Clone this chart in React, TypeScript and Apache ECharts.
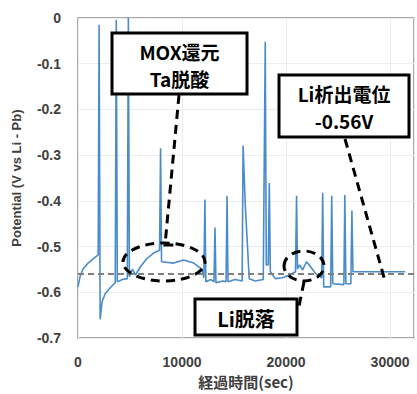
import React, { useEffect, useRef } from "react";
import * as echarts from "echarts";

// elapsed time (sec) and potential (V vs Li-Pb)
const timeSec = [
  0, 190, 480, 970, 1450, 1940, 2030, 2130, 2320, 2610, 3100, 3580, 3680, 3780, 4260, 4740, 4840, 4940,
  5230, 5520, 6000, 6580, 7260, 7840, 7940, 8030, 9200, 10160, 11130, 11900, 12100, 12200, 12290, 12780,
  13070, 13170, 13260, 13940, 14230, 14330, 14420, 15100, 15780, 15870, 16070, 16460, 17040, 17810, 18000,
  18100, 18290, 18390, 18490, 18970, 19650, 20330, 20910, 21010, 21100, 21300, 21590, 21970, 22360, 22840,
  23430, 23520, 23620, 24290, 24390, 24490, 25560, 25650, 25750, 26230, 26330, 26430, 31460,
];
const potential = [
  -0.588, -0.566, -0.549, -0.536, -0.527, -0.518, -0.015, -0.659, -0.62, -0.603, -0.59, -0.579, -0.004,
  -0.577, -0.572, -0.57, 0.0, -0.566, -0.549, -0.562, -0.544, -0.527, -0.514, -0.508, -0.285, -0.533,
  -0.536, -0.529, -0.536, -0.549, -0.568, -0.397, -0.577, -0.572, -0.577, -0.458, -0.579, -0.575, -0.577,
  -0.389, -0.577, -0.572, -0.575, -0.279, -0.404, -0.57, -0.575, -0.572, -0.052, -0.54, -0.54, -0.361,
  -0.555, -0.57, -0.568, -0.562, -0.555, -0.389, -0.549, -0.54, -0.551, -0.533, -0.544, -0.559, -0.568,
  -0.382, -0.588, -0.588, -0.389, -0.581, -0.583, -0.387, -0.581, -0.581, -0.421, -0.555, -0.555,
];
const liPotentialLine = [
  [0, -0.56],
  [32300, -0.56],
];
const xTicks = [0, 10000, 20000, 30000];
const yTickLabels = ["-0.7", "-0.6", "-0.5", "-0.4", "-0.3", "-0.2", "-0.1", "0"];

const boxText1 = ["MOX還元", "Ta脱酸"];
const boxText2 = ["Li析出電位", "-0.56V"];
const boxText3 = ["Li脱落"];

export default function App() {
  const ref = useRef<HTMLDivElement>(null);
  useEffect(() => {
    document.body.style.margin = "0";
    const chart = echarts.init(ref.current!, null, { renderer: "svg" });
    const dash = { stroke: "#000", lineWidth: 3, lineDash: [9, 6], fill: "none" };
    const cjk = '"Noto Sans CJK JP", "Noto Sans", sans-serif';
    const box = (x: number, y: number, w: number, h: number, lines: string[], lh: number, fs: number) => {
      const els: any[] = [
        {
          type: "rect",
          shape: { x, y, width: w, height: h },
          style: { fill: "#fff", stroke: "#000", lineWidth: 3 },
          z: 100,
        },
      ];
      const cy = y + h / 2 + 1;
      lines.forEach((t, i) => {
        els.push({
          type: "text",
          x: x + w / 2,
          y: cy + (i - (lines.length - 1) / 2) * lh,
          style: {
            text: t,
            fill: "#000",
            fontSize: fs,
            lineHeight: fs,
            fontWeight: "bold",
            fontFamily: cjk,
            align: "center",
            verticalAlign: "middle",
          },
          z: 101,
        });
      });
      return els;
    };
    chart.setOption({
      animation: false,
      backgroundColor: "#fff",
      grid: {
        left: 78,
        right: 3,
        top: 18,
        bottom: 52,
        show: true,
        borderColor: "#8c8c8c",
        borderWidth: 1.5,
      },
      xAxis: {
        type: "value",
        min: 0,
        max: 32300,
        interval: 10000,
        name: "経過時間(sec)",
        nameLocation: "middle",
        nameGap: 31,
        nameTextStyle: {
          fontFamily: cjk,
          fontWeight: "bold",
          fontSize: 15,
          color: "#404040",
        },
        axisLine: { show: false },
        axisTick: { show: false },
        splitLine: { show: true, lineStyle: { color: "#ececec", width: 1 } },
        axisLabel: {
          margin: 17,
          fontFamily: "Liberation Sans",
          fontWeight: "bold",
          fontSize: 14,
          color: "#404040",
          formatter: (v: number) => (xTicks.includes(v) ? String(v) : ""),
        },
      },
      yAxis: {
        type: "value",
        min: -0.7,
        max: 0,
        interval: 0.1,
        name: "Potential (V vs Li - Pb)",
        nameLocation: "middle",
        nameGap: 55,
        nameTextStyle: {
          fontFamily: "Liberation Sans",
          fontWeight: "bold",
          fontSize: 13,
          color: "#404040",
        },
        axisLine: { show: false },
        axisTick: { show: false },
        splitLine: { show: true, lineStyle: { color: "#ececec", width: 1 } },
        axisLabel: {
          margin: 17,
          fontFamily: "Liberation Sans",
          fontWeight: "bold",
          fontSize: 14,
          color: "#404040",
          formatter: (v: number) => {
            const s = v === 0 ? "0" : v.toFixed(1);
            return yTickLabels.includes(s) ? s : "";
          },
        },
      },
      series: [
        {
          name: "Li析出電位",
          type: "line",
          data: liPotentialLine,
          symbol: "none",
          lineStyle: { color: "#7f7f7f", width: 2, type: [6, 4] },
          z: 3,
        },
        {
          name: "Potential",
          type: "line",
          data: timeSec.map((t, i) => [t, potential[i]]),
          symbol: "none",
          clip: true,
          lineStyle: { color: "#4a8cc9", width: 1.6 },
          z: 2,
        },
      ],
      graphic: [
        // MOX reduction annotation
        { type: "polyline", shape: { points: [[179, 95], [165, 245], [176, 245]] }, style: dash, z: 90 },
        { type: "ellipse", shape: { cx: 164, cy: 262, rx: 41, ry: 19 }, style: dash, z: 90 },
        ...box(112, 33, 135, 61, boxText1, 27, 19),
        // Li deposition potential
        { type: "line", shape: { x1: 345, y1: 139, x2: 385, y2: 281 }, style: dash, z: 90 },
        ...box(279, 75, 130, 62, boxText2, 27, 19),
        // Li detachment
        { type: "ellipse", shape: { cx: 304, cy: 266, rx: 20, ry: 15 }, style: dash, z: 90 },
        { type: "line", shape: { x1: 304, y1: 282, x2: 298, y2: 311 }, style: dash, z: 90 },
        ...box(195, 299, 102, 36, boxText3, 24, 20),
      ],
    });
    return () => chart.dispose();
  }, []);
  return (
    <div
      ref={ref}
      style={{ position: "fixed", left: 0, top: 0, width: 417, height: 394 }}
    />
  );
}
